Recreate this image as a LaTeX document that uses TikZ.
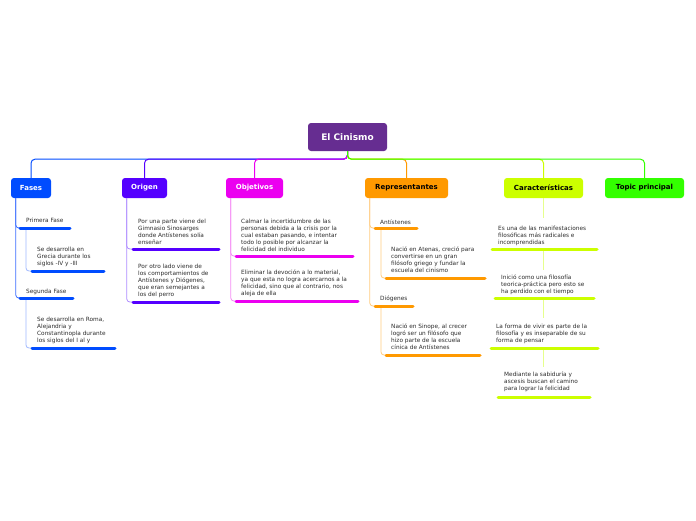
\documentclass[tikz,border=0pt]{standalone}
\usepackage{fontspec}
\setmainfont{DejaVu Sans}
\definecolor{rootc}{RGB}{102,45,145}
\definecolor{fasc}{RGB}{0,76,255}
\definecolor{fasl}{RGB}{60,110,255}
\definecolor{fasll}{RGB}{160,185,255}
\definecolor{oric}{RGB}{85,0,255}
\definecolor{oril}{RGB}{175,140,255}
\definecolor{objc}{RGB}{235,0,240}
\definecolor{objl}{RGB}{245,140,245}
\definecolor{repc}{RGB}{255,153,0}
\definecolor{repl}{RGB}{255,205,130}
\definecolor{carc}{RGB}{204,255,0}
\definecolor{carl}{RGB}{230,255,140}
\definecolor{topc}{RGB}{51,255,0}
\definecolor{txtgray}{RGB}{45,45,45}
\tikzset{
  mainbox/.style={rounded corners=3pt, minimum height=20pt, inner sep=0pt, font=\fontsize{7}{8}\selectfont\bfseries},
  txt/.style={anchor=north west, inner sep=0pt, align=left, font=\fontsize{5.8}{7}\selectfont, text=txtgray},
  ul/.style={line width=3pt, line cap=round},
  conn/.style={line width=0.8pt, rounded corners=3pt},
  rconn/.style={line width=1pt, rounded corners=4pt}
}
\begin{document}
\begin{tikzpicture}[x=1pt,y=-1pt]
\useasboundingbox[fill=white] (0,0) rectangle (696,520);

% root and main nodes
\node[mainbox, fill=rootc, text=white, minimum width=79pt, minimum height=28pt, font=\fontsize{9}{10}\selectfont\bfseries] (root) at (347.5,137) {El Cinismo};
\node[mainbox, fill=fasc, text=white, minimum width=40pt] (fases) at (31,188) {Fases};
\node[mainbox, fill=oric, text=white, minimum width=45pt] (origen) at (144.5,188) {Origen};
\node[mainbox, fill=objc, text=white, minimum width=57pt] (obj) at (254.5,188) {Objetivos};
\node[mainbox, fill=repc, text=black, minimum width=83pt] (rep) at (406.5,188) {Representantes};
\node[mainbox, fill=carc, text=black, minimum width=79pt] (car) at (543.5,188) {Características};
\node[mainbox, fill=topc, text=black, minimum width=79pt] (top) at (644.5,188) {Topic principal};

% root connectors
\draw[rconn, fasc] (root.south) -- ++(0,8) -| (fases.north);
\draw[rconn, oric] (root.south) -- ++(0,8) -| (origen.north);
\draw[rconn, objc] (root.south) -- ++(0,8) -| (obj.north);
\draw[rconn, repc] (root.south) -- ++(0,8) -| (rep.north);
\draw[rconn, carc] (root.south) -- ++(0,8) -| (car.north);
\draw[rconn, topc] (root.south) -- ++(0,8) -| (top.north);

% ---------- Fases ----------
\node[txt] (pf) at (26,218) {Primera Fase};
\coordinate (pfA) at (20,228); \coordinate (pfB) at (70,228); \coordinate (pfS) at (26,228);
\node[txt] (pf1) at (37,247) {Se desarrolla en\\Grecia durante los\\siglos -IV y -III};
\coordinate (pf1A) at (32,271); \coordinate (pf1B) at (104,271);
\node[txt] (sf) at (26,289) {Segunda Fase};
\coordinate (sfA) at (20,298); \coordinate (sfB) at (73,298); \coordinate (sfS) at (26,298);
\node[txt] (sf1) at (37,317) {Se desarrolla en Roma,\\Alejandria y\\Constantinopla durante\\los siglos del I al y};
\coordinate (sf1A) at (32,348); \coordinate (sf1B) at (115,348);
\draw[conn, fasl] ([xshift=5pt]fases.south west) |- (pfA);
\draw[conn, fasl] ([xshift=5pt]fases.south west) |- (sfA);
\draw[conn, fasll] (pfS) |- (pf1A);
\draw[conn, fasll] (sfS) |- (sf1A);
\draw[ul, fasc] (pfA) -- (pfB);
\draw[ul, fasc] (pf1A) -- (pf1B);
\draw[ul, fasc] (sfA) -- (sfB);
\draw[ul, fasc] (sf1A) -- (sf1B);

% ---------- Origen ----------
\node[txt] (o1) at (138,219) {Por una parte viene del\\Gimnasio Sinosarges\\donde Antístenes solía\\enseñar};
\coordinate (o1A) at (133,249); \coordinate (o1B) at (219,249);
\node[txt] (o2) at (138,264) {Por otro lado viene de\\los comportamientos de\\Antístenes y Diógenes,\\que eran semejantes a\\los del perro};
\coordinate (o2A) at (133,302); \coordinate (o2B) at (219,302);
\draw[conn, oril] ([xshift=5pt]origen.south west) |- (o1A);
\draw[conn, oril] ([xshift=5pt]origen.south west) |- (o2A);
\draw[ul, oric] (o1A) -- (o1B);
\draw[ul, oric] (o2A) -- (o2B);

% ---------- Objetivos ----------
\node[txt] (ob1) at (241,219) {Calmar la incertidumbre de las\\personas debida a la crisis por la\\cual estaban pasando, e intentar\\todo lo posible por alcanzar la\\felicidad del individuo};
\coordinate (ob1A) at (236,256); \coordinate (ob1B) at (353,256);
\node[txt] (ob2) at (241,270) {Eliminar la devoción a lo material,\\ya que esta no logra acercarnos a la\\felicidad, sino que al contrario, nos\\aleja de ella};
\coordinate (ob2A) at (236,301); \coordinate (ob2B) at (358,301);
\draw[conn, objl] ([xshift=5pt]obj.south west) |- (ob1A);
\draw[conn, objl] ([xshift=5pt]obj.south west) |- (ob2A);
\draw[ul, objc] (ob1A) -- (ob1B);
\draw[ul, objc] (ob2A) -- (ob2B);

% ---------- Representantes ----------
\node[txt] (an) at (380,220) {Antístenes};
\coordinate (anA) at (375,228); \coordinate (anB) at (417,228); \coordinate (anS) at (381,228);
\node[txt] (an1) at (391,247) {Nació en Atenas, creció para\\convertirse en un gran\\filósofo griego y fundar la\\escuela del cinismo};
\coordinate (an1A) at (386,278); \coordinate (an1B) at (485,278);
\node[txt] (di) at (380,296) {Diógenes};
\coordinate (diA) at (375,306); \coordinate (diB) at (413,306); \coordinate (diS) at (381,306);
\node[txt] (di1) at (391,324) {Nació en Sinope, al crecer\\logró ser un filósofo que\\hizo parte de la escuela\\cínica de Antístenes};
\coordinate (di1A) at (386,355); \coordinate (di1B) at (480,355);
\draw[conn, repl] ([xshift=5pt]rep.south west) |- (anA);
\draw[conn, repl] ([xshift=5pt]rep.south west) |- (diA);
\draw[conn, repl] (anS) |- (an1A);
\draw[conn, repl] (diS) |- (di1A);
\draw[ul, repc] (anA) -- (anB);
\draw[ul, repc] (an1A) -- (an1B);
\draw[ul, repc] (diA) -- (diB);
\draw[ul, repc] (di1A) -- (di1B);

% ---------- Características ----------
\node[txt] (c1) at (498,226) {Es una de las manifestaciones\\filosóficas más radicales e\\incomprendidas};
\coordinate (c1A) at (492,249); \coordinate (c1B) at (597,249); \coordinate (c1M) at (543.5,249);
\coordinate (c1T) at (543.5,218);
\node[txt] (c2) at (501,275) {Inició como una filosofía\\teorica-práctica pero esto se\\ha perdido con el tiempo};
\coordinate (c2A) at (495,298); \coordinate (c2B) at (594,298); \coordinate (c2M) at (543.5,298);
\coordinate (c2T) at (543.5,270);
\node[txt] (c3) at (496,324) {La forma de vivir es parte de la\\filosofía y es inseparable de su\\forma de pensar};
\coordinate (c3A) at (491,348); \coordinate (c3B) at (598,348); \coordinate (c3M) at (543.5,348);
\coordinate (c3T) at (543.5,318);
\node[txt] (c4) at (504,372) {Mediante la sabiduría y\\ascesis buscan el camino\\para lograr la felicidad};
\coordinate (c4A) at (498,397); \coordinate (c4B) at (590,397);
\coordinate (c4T) at (543.5,367);
\draw[conn, carl] (car.south) -- (c1T);
\draw[conn, carl] (c1M) -- (c2T);
\draw[conn, carl] (c2M) -- (c3T);
\draw[conn, carl] (c3M) -- (c4T);
\draw[ul, carc] (c1A) -- (c1B);
\draw[ul, carc] (c2A) -- (c2B);
\draw[ul, carc] (c3A) -- (c3B);
\draw[ul, carc] (c4A) -- (c4B);
\end{tikzpicture}
\end{document}
